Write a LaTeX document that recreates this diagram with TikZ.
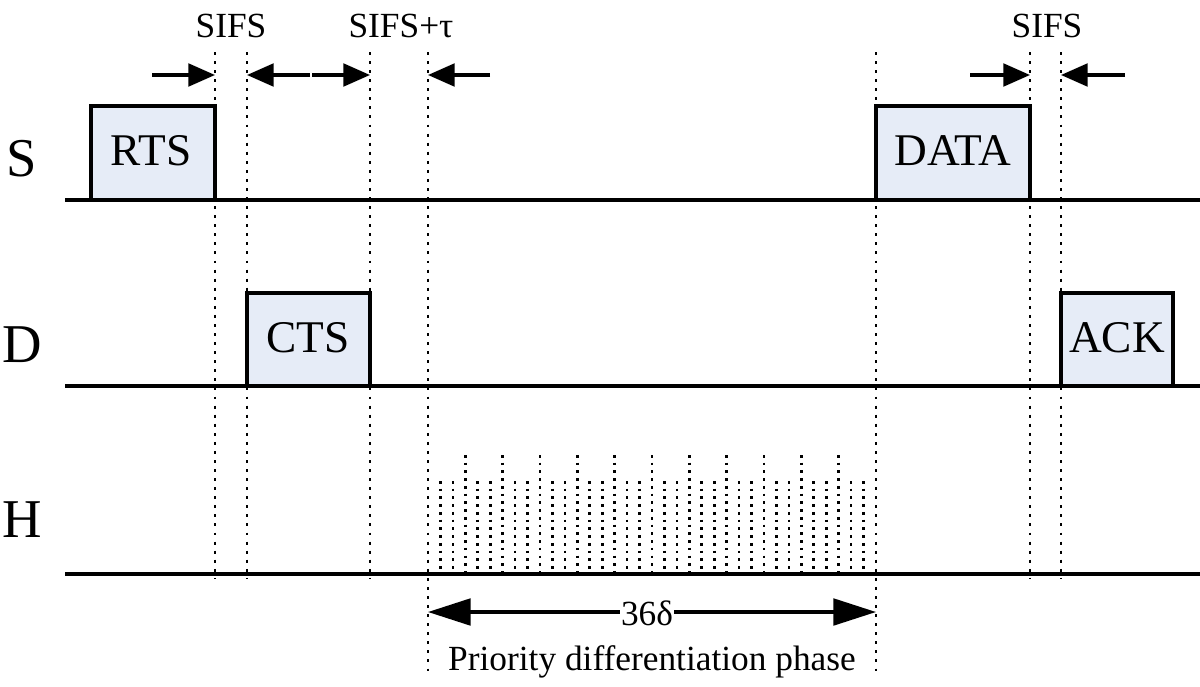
\documentclass[tikz,border=0pt]{standalone}
\usepackage{fontspec}
\setmainfont{Liberation Serif}
\usetikzlibrary{arrows.meta}
\definecolor{boxfill}{RGB}{230,236,247}
\tikzset{
  track/.style={line width=2.4pt},
  frame/.style={line width=2.4pt, fill=boxfill},
  guide/.style={line width=2.2pt, dash pattern=on 2.2pt off 4.6pt},
  tick/.style={line width=2pt, dash pattern=on 2pt off 3.8pt},
  gap/.style={line width=2.4pt, -{Triangle[length=20pt,width=17pt]}},
  span/.style={line width=2.4pt, {Triangle[length=32pt,width=20pt]}-{Triangle[length=32pt,width=20pt]}},
  rowlabel/.style={anchor=base, inner sep=0pt, font=\fontsize{41}{43}\selectfont},
  boxtext/.style={anchor=base, inner sep=0pt, font=\fontsize{34}{36}\selectfont},
  timetext/.style={anchor=base, inner sep=0pt, font=\fontsize{26.5}{28}\selectfont}
}
\begin{document}
\begin{tikzpicture}[x=0.75pt,y=0.75pt,yscale=-1,xscale=1]
    \useasboundingbox (0,0) rectangle (1200,686);

    %Shape: Frames of the three stations
    \draw [frame] (91,200) rectangle (215,106);
    \draw [frame] (247,386) rectangle (370,293);
    \draw [frame] (876,200) rectangle (1030,106);
    \draw [frame] (1061,386) rectangle (1173,293);

    %Straight Lines: time axes
    \draw [track] (65,200) -- (1200,200);
    \draw [track] (65,386) -- (1200,386);
    \draw [track] (65,574) -- (1200,574);

    %Straight Lines: dotted time marks
    \foreach \t in {215,247,370,1030,1061}
      \draw [guide] (\t,52) -- (\t,578);
    \foreach \t in {428,876}
      \draw [guide] (\t,52) -- (\t,672);

    %Straight Lines: priority slots of H
    \foreach \k in {1,...,35}{
      \pgfmathtruncatemacro\m{mod(\k,3)}
      \ifnum\m=0 \def\ytop{455}\else\def\ytop{481}\fi
      \draw [tick] ({428+\k*12.444},\ytop) -- ({428+\k*12.444},574);
    }

    %Arrows: interframe spaces
    \coordinate (sifsA) at (215,75);
    \coordinate (sifsB) at (247,75);
    \coordinate (tauA) at (370,75);
    \coordinate (tauB) at (428,75);
    \coordinate (sifsC) at (1030,75);
    \coordinate (sifsD) at (1061,75);
    \draw [gap] (152,75) -- (sifsA);
    \draw [gap] (310,75) -- (sifsB);
    \draw [gap] (312,75) -- (tauA);
    \draw [gap] (490,75) -- (tauB);
    \draw [gap] (970,75) -- (sifsC);
    \draw [gap] (1125,75) -- (sifsD);

    %Arrows: priority phase
    \coordinate (phaseA) at (428,612);
    \coordinate (phaseB) at (876,612);
    \draw [span] (phaseA) -- (phaseB);

    % Text Node
    \node (lblS) [rowlabel] at (22,176) {S};
    % Text Node
    \node (lblD) [rowlabel] at (22,362) {D};
    % Text Node
    \node (lblH) [rowlabel] at (22,537) {H};
    % Text Node
    \node (rts) [boxtext] at (151,165) {RTS};
    % Text Node
    \node (cts) [boxtext] at (308,352) {CTS};
    % Text Node
    \node (data) [boxtext] at (953,165) {DATA};
    % Text Node
    \node (ack) [boxtext] at (1117,352) {ACK};
    % Text Node
    \node (sifs1) [timetext] at (231,37) {SIFS};
    % Text Node
    \node (sifstau) [timetext] at (401,37) {SIFS+τ};
    % Text Node
    \node (sifs2) [timetext] at (1047,37) {SIFS};
    % Text Node
    \node (slots) [timetext, fill=white, inner xsep=1pt, inner ysep=2pt] at (647,625) {36δ};
    % Text Node
    \node (phase) [timetext] at (652,670) {Priority differentiation phase};

\end{tikzpicture}
\end{document}
